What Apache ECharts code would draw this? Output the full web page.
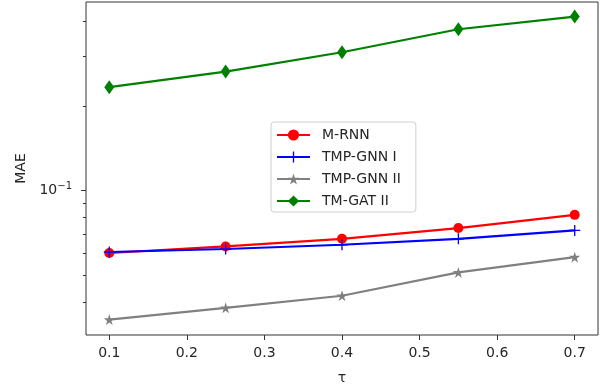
<!DOCTYPE html>
<html>
<head>
<meta charset="utf-8">
<script src="https://cdn.jsdelivr.net/npm/echarts@6/dist/echarts.min.js"></script>
<style>html,body{margin:0;padding:0;background:#fff}#c{width:606px;height:387px}</style>
</head>
<body>
<div id="c"></div>
<script>
const tau = [0.1, 0.25, 0.4, 0.55, 0.7];
const mRNN = [0.0599, 0.0632, 0.0673, 0.0735, 0.0819];
const tmpGnnI = [0.0604, 0.0619, 0.0641, 0.0673, 0.0721];
const tmpGnnII = [0.0347, 0.0382, 0.0422, 0.0511, 0.0579];
const tmGatII = [0.2333, 0.2651, 0.3108, 0.3753, 0.4162];
const xTicks = [0.1, 0.2, 0.3, 0.4, 0.5, 0.6, 0.7];
const yMajorTicks = [0.1];
const yMinorTicks = [0.04, 0.05, 0.06, 0.07, 0.08, 0.09, 0.2, 0.3, 0.4];
const seriesNames = ['M-RNN', 'TMP-GNN I', 'TMP-GNN II', 'TM-GAT II'];

const pair = ys => tau.map((x, i) => [x, ys[i]]);
const font = 'DejaVu Sans';
const txt = '#262626';
const yMin = 0.03058, yMax = 0.4692;

const plusPath = 'path://M4.4,0h1.2v10h-1.2z M0,4.4h10v1.2h-10z';
const starPath = 'path://M50,0L61.2,34.5L97.6,34.5L68.2,55.9L79.4,90.5L50,69.1L20.6,90.5L31.8,55.9L2.4,34.5L38.8,34.5Z';

const chart = echarts.init(document.getElementById('c'), null, {renderer: 'canvas'});
chart.setOption({
  animation: false,
  backgroundColor: '#fff',
  grid: {left: 86, right: 8, top: 2, bottom: 52, show: true, borderColor: '#333', borderWidth: 1,
    containLabel: false, outerBoundsMode: 'none'},
  legend: {
    orient: 'vertical', left: 271, top: 122,
    padding: [6, 15, 4, 5], itemGap: 8, itemWidth: 33, itemHeight: 14,
    backgroundColor: 'rgba(255,255,255,0.8)', borderColor: '#d0d0d0', borderWidth: 1, borderRadius: 3,
    textStyle: {fontFamily: font, fontSize: 14, color: txt, padding: [0, 0, 0, 7]},
    data: seriesNames
  },
  xAxis: {
    type: 'value', min: 0.07, max: 0.73,
    name: 'τ', nameLocation: 'middle', nameGap: 36,
    nameTextStyle: {fontFamily: font, fontSize: 14, color: txt},
    axisLine: {show: false},
    splitLine: {show: false},
    axisTick: {show: true, length: 5, lineStyle: {color: '#333'}, customValues: xTicks},
    axisLabel: {fontFamily: font, fontSize: 14, color: txt, margin: 11, customValues: xTicks,
      formatter: v => v.toFixed(1)}
  },
  yAxis: [{
    type: 'log', logBase: 10, min: yMin, max: yMax,
    name: 'MAE', nameLocation: 'middle', nameGap: 55,
    nameTextStyle: {fontFamily: font, fontSize: 14, color: txt},
    axisLine: {show: false},
    splitLine: {show: false},
    axisTick: {show: true, length: 5, lineStyle: {color: '#333'}, customValues: yMajorTicks},
    axisLabel: {margin: 14, customValues: yMajorTicks, color: txt,
      formatter: () => '{b|10}{s|−1}',
      rich: {b: {fontFamily: font, fontSize: 14, color: txt}, s: {fontFamily: font, fontSize: 10, color: txt, padding: [0, 0, 8, 0]}}}
  }, {
    type: 'log', logBase: 10, min: yMin, max: yMax, position: 'left',
    axisLine: {show: false},
    splitLine: {show: false},
    axisTick: {show: true, length: 3, lineStyle: {color: '#333'}, customValues: yMinorTicks},
    axisLabel: {show: false}
  }],
  series: [
    {name: seriesNames[0], type: 'line', data: pair(mRNN), color: '#ff0000', symbol: 'circle', symbolSize: 10,
     lineStyle: {width: 2.2}, itemStyle: {color: '#ff0000'}},
    {name: seriesNames[1], type: 'line', data: pair(tmpGnnI), color: '#0000ff', symbol: plusPath, symbolSize: 11,
     lineStyle: {width: 2.2}, itemStyle: {color: '#0000ff'}},
    {name: seriesNames[2], type: 'line', data: pair(tmpGnnII), color: '#808080', symbol: starPath, symbolSize: 11,
     lineStyle: {width: 2.2}, itemStyle: {color: '#808080'}},
    {name: seriesNames[3], type: 'line', data: pair(tmGatII), color: '#008000', symbol: 'diamond', symbolSize: [10, 14],
     lineStyle: {width: 2.2}, itemStyle: {color: '#008000'}}
  ]
});
</script>
</body>
</html>
